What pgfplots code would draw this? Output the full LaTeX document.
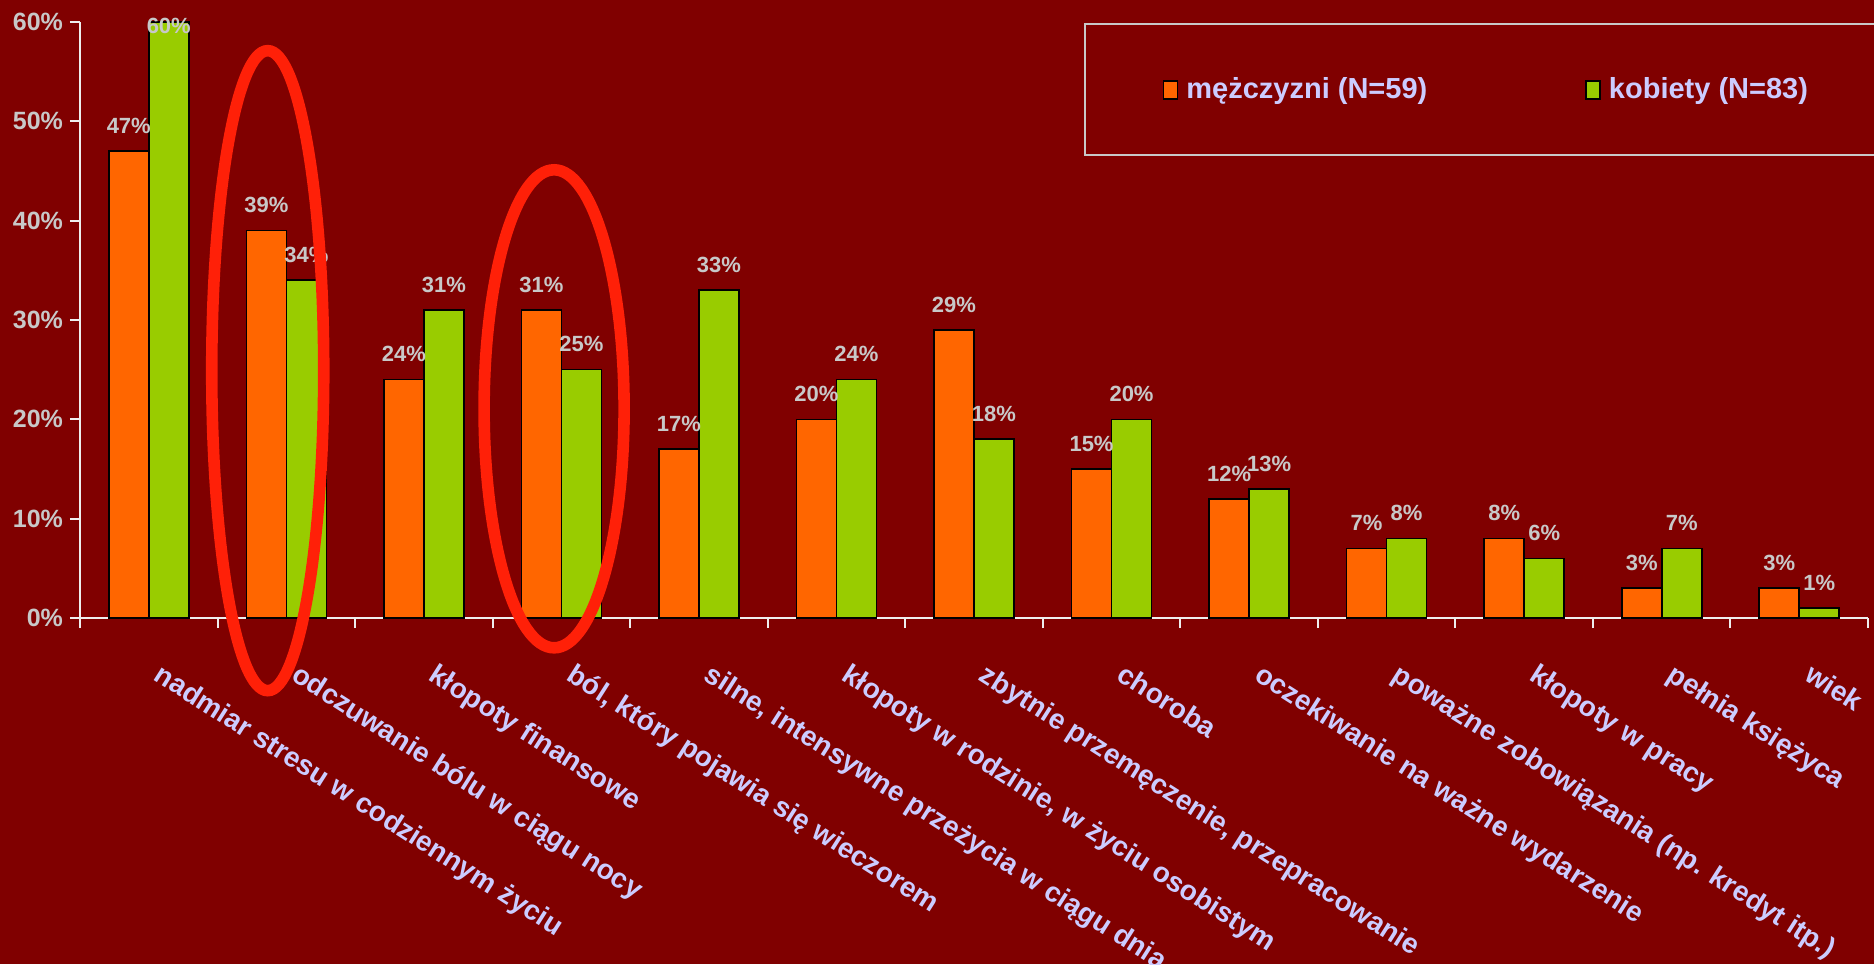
\documentclass[border=0pt]{standalone}
\usepackage{pgfplots}
\pgfplotsset{compat=1.18}
\usepackage{pgfplotstable}
\usepackage{fontspec}
\setmainfont{Liberation Sans}
\definecolor{bg}{HTML}{800000}
\definecolor{orng}{HTML}{FF6600}
\definecolor{grn}{HTML}{99CC00}
\definecolor{lav}{HTML}{CCCCFF}
\definecolor{lgrey}{HTML}{C8C8C8}
\definecolor{axc}{HTML}{EEEEEE}
\definecolor{ellred}{HTML}{FF2008}

\pgfplotstableread{
x men women
0 47 60
1 39 34
2 24 31
3 31 25
4 17 33
5 20 24
6 29 18
7 15 20
8 12 13
9 7 8
10 8 6
11 3 7
12 3 1
}\data

\begin{document}
\begin{tikzpicture}
\fill[bg] (-40pt,-173pt) rectangle (897pt,309pt);
\useasboundingbox (-40pt,-173pt) rectangle (897pt,309pt);
\draw[lgrey, line width=1pt] (502.5pt,231.5pt) rectangle (910pt,297pt);
\begin{axis}[
  scale only axis, width=894pt, height=298pt,
  at={(0pt,0pt)}, anchor=south west,
  xmin=-0.5, xmax=12.5, ymin=0, ymax=60,
  ybar=0pt, bar width=20pt,
  axis lines*=left,
  axis line style={draw=axc, line width=1pt},
  tick align=outside,
  /pgf/number format/assume math mode=true,
  ytick={0,10,...,60},
  yticklabels={0\%,10\%,20\%,30\%,40\%,50\%,60\%},
  xtick={0,...,12},
  xticklabels={{nadmiar stresu w codziennym życiu},{odczuwanie bólu w ciągu nocy},{kłopoty finansowe},{ból, który pojawia się wieczorem},{silne, intensywne przeżycia w ciągu dnia},{kłopoty w rodzinie, w życiu osobistym},{zbytnie przemęczenie, przepracowanie},{choroba},{oczekiwanie na ważne wydarzenie},{poważne zobowiązania (np. kredyt itp.)},{kłopoty w pracy},{pełnia księżyca},{wiek}},
  xtick style={draw=none},
  minor xtick={-0.5,0.5,...,12.5},
  major tick length=5pt, minor tick length=5pt,
  ytick style={draw=axc, line width=1pt},
  minor x tick style={draw=axc, line width=1pt},
  yticklabel style={font=\bfseries\fontsize{12.5}{14}\selectfont, text=lgrey},
  xticklabel style={font=\bfseries\fontsize{14}{16}\selectfont, text=lav, rotate=-32.5, anchor=north west, yshift=-7pt, xshift=12pt},
  visualization depends on={y \as \rawy},
  nodes near coords={\pgfmathprintnumber{\pgfplotspointmeta}\%},
  every node near coord/.append style={font=\bfseries\fontsize{11}{13}\selectfont, text=lgrey, yshift={ifthenelse(\rawy>59,-9.5pt,5pt)}},
  legend columns=2,
  legend style={draw=none, fill=none, at={(0.602,0.886)}, anchor=west,
    font=\bfseries\fontsize{14.5}{16}\selectfont, text=lav,
    /tikz/every even column/.append style={column sep=77pt}},
  clip=false,
]
\addplot[fill=orng, draw=black, line width=0.8pt,
  legend image code/.code={\draw[fill=orng, draw=black, line width=0.8pt] (0pt,-4.5pt) rectangle (7pt,4.5pt);}]
  table[x=x, y=men] {\data};
\addlegendentry{\hspace{2pt}mężczyzni (N=59)}
\addplot[fill=grn, draw=black, line width=0.8pt,
  legend image code/.code={\draw[fill=grn, draw=black, line width=0.8pt] (0pt,-4.5pt) rectangle (7pt,4.5pt);}]
  table[x=x, y=women] {\data};
\addlegendentry{\hspace{2pt}kobiety (N=83)}
\coordinate (e1) at (axis cs:0.865,24.9);
\coordinate (e2) at (axis cs:2.947,21.06);
\end{axis}
\draw[ellred, line width=5.8pt] (e1) ellipse (28pt and 160pt);
\draw[ellred, line width=5.8pt] (e2) ellipse (35pt and 119.5pt);
\end{tikzpicture}
\end{document}
